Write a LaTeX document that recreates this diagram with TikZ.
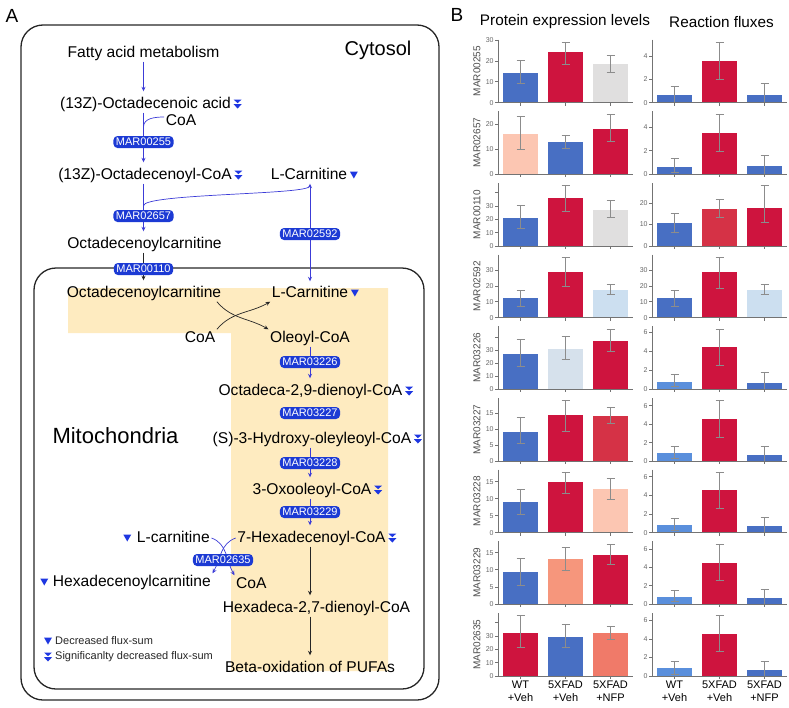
\documentclass[tikz,border=0pt]{standalone}
\usepackage{fontspec}
\setmainfont{Liberation Sans}
\usetikzlibrary{backgrounds,arrows.meta}

\definecolor{marblue}{RGB}{28,58,212}
\definecolor{iconblue}{RGB}{30,55,225}
\definecolor{flowblue}{RGB}{60,60,215}
\definecolor{mitoyellow}{RGB}{254,235,192}
\definecolor{cblue}{RGB}{72,111,195}
\definecolor{cred}{RGB}{206,20,62}
\definecolor{credmid}{RGB}{213,50,70}
\definecolor{cgray}{RGB}{224,223,223}
\definecolor{csalmonlight}{RGB}{252,198,178}
\definecolor{csalmon}{RGB}{246,150,124}
\definecolor{ccoral}{RGB}{240,122,105}
\definecolor{clightblue}{RGB}{204,223,240}
\definecolor{cpaleblue}{RGB}{214,225,236}
\definecolor{cskyblue}{RGB}{90,143,220}

% axis x, baseline y, pt per unit, tick step, last tick, extra tick, bars
\newcommand{\barchart}[7]{%
	\begin{scope}[shift={(#1,#2)}]
		\foreach \val/\low/\high/\col [count=\bi] in {#7}{
			\fill[\col] ({45*\bi-40},0) rectangle ++(35,{\val*#3});
			\draw[errbar] ({45*\bi-22.5},{\low*#3}) -- ({45*\bi-22.5},{\high*#3})
				({45*\bi-26.5},{\low*#3}) -- ++(8,0) ({45*\bi-26.5},{\high*#3}) -- ++(8,0);
			\draw[spine] ({45*\bi-22.5},0) -- ++(0,-3);
		}
		\foreach \tk in {0,#4,...,#5}
			\draw[spine] (0,{\tk*#3}) -- (-3,{\tk*#3}) node[ticklabel]{\tk};
		\draw[spine] (0,{#6*#3}) -- (-3,{#6*#3});
		\draw[spine] (0,63) -- (0,0) -- (135,0);
	\end{scope}%
}

\begin{document}
\begin{tikzpicture}[x=1pt, y=1pt, >={Stealth[length=4.5pt,width=4pt]},
	met/.style={font=\fontsize{15.6}{18}\selectfont, inner sep=1.5pt, text height=11pt, text depth=3pt},
	rxn/.style={fill=marblue, text=white, rounded corners=4pt, font=\fontsize{11}{12}\selectfont,
		inner xsep=2.5pt, inner ysep=0pt, minimum height=12pt},
	bflow/.style={->, flowblue, line width=0.7pt},
	bline/.style={flowblue, line width=0.7pt},
	kflow/.style={->, black!85, line width=0.7pt},
	tipgap/.style={shorten >=4pt},
	compartment/.style={draw=black!85, line width=1.3pt, rounded corners=22pt},
	compname/.style={font=\fontsize{20}{22}\selectfont},
	panel/.style={font=\fontsize{19}{21}\selectfont},
	legend/.style={font=\fontsize{11}{12}\selectfont, text=black!85, inner sep=1pt},
	title/.style={font=\fontsize{15.3}{17}\selectfont},
	rowlabel/.style={font=\fontsize{10}{11}\selectfont, text=black!70, rotate=90},
	grouplabel/.style={font=\fontsize{11}{13}\selectfont, align=center},
	ticklabel/.style={font=\fontsize{7}{8}\selectfont, text=black!60, anchor=east, inner sep=1pt},
	spine/.style={draw=black!55, line width=0.9pt},
	errbar/.style={draw=black!45, line width=0.7pt},
	dn/.pic={\fill[iconblue] (-4,3.5) -- (4,3.5) -- (0,-3.5) -- cycle;},
	ddn/.pic={\fill[iconblue] (-4,4.5) -- (4,4.5) -- (0,0.8) -- cycle
		(-4,-0.2) -- (4,-0.2) -- (0,-4.5) -- cycle;}
	]% {{{ A
	\useasboundingbox (0,0) rectangle (789,-707);
	\begin{scope}[on background layer]
		\fill[mitoyellow] (68,-288) -- (388,-288) -- (388,-671) -- (231,-671) -- (231,-333) -- (68,-333) -- cycle;
		\draw[compartment] (21,-25) rectangle (439,-700);
		\draw[compartment] (34,-268) rectangle (424,-689);
	\end{scope}

	\node[panel] (lblA) at (12,-16) {A};
	\node[compname] (cyto) at (378,-50) {Cytosol};
	\node[compname, font=\fontsize{22}{24}\selectfont] (mito) at (115.5,-436) {Mitochondria};

	\node[met] (fam) at (143.5,-53) {Fatty acid metabolism};
	\node[met] (oda) at (145.5,-104) {(13Z)-Octadecenoic acid};
	\node[met] (coa1) at (181,-121) {CoA};
	\node[met] (odcoa) at (145,-175) {(13Z)-Octadecenoyl-CoA};
	\node[met] (lcar1) at (309,-175) {L-Carnitine};
	\node[met] (octc1) at (144.5,-244) {Octadecenoylcarnitine};
	\node[met] (octc2) at (144,-293) {Octadecenoylcarnitine};
	\node[met] (lcar2) at (310,-293) {L-Carnitine};
	\node[met] (coa2) at (200,-338) {CoA};
	\node[met] (olcoa) at (310,-338) {Oleoyl-CoA};
	\node[met] (od29) at (310.5,-391) {Octadeca-2,9-dienoyl-CoA};
	\node[met] (hoco) at (312,-439) {(S)-3-Hydroxy-oleyleoyl-CoA};
	\node[met] (oxo) at (312,-490) {3-Oxooleoyl-CoA};
	\node[met] (hex7) at (311.5,-538) {7-Hexadecenoyl-CoA};
	\node[met, anchor=east] (lcar3) at (211.5,-538) {L-carnitine};
	\node[met, anchor=east] (hexc) at (212.5,-582) {Hexadecenoylcarnitine};
	\node[met, anchor=west] (coa3) at (234.5,-584) {CoA};
	\node[met] (hexdi) at (316.5,-608) {Hexadeca-2,7-dienoyl-CoA};
	\node[met] (beta) at (310,-668) {Beta-oxidation of PUFAs};

	\pic at ([xshift=5pt]oda.east) {ddn};
	\pic at ([xshift=5pt]odcoa.east) {ddn};
	\pic at ([xshift=5pt]lcar1.east) {dn};
	\pic at ([xshift=5pt]lcar2.east) {dn};
	\pic at ([xshift=5pt]od29.east) {ddn};
	\pic at ([xshift=5pt]hoco.east) {ddn};
	\pic at ([xshift=5pt]oxo.east) {ddn};
	\pic at ([xshift=5pt]hex7.east) {ddn};
	\pic at ([xshift=-8pt]lcar3.west) {dn};
	\pic at ([xshift=-7pt]hexc.west) {dn};

	% cytosol
	\draw[bflow, tipgap] (fam.south) -- (fam.south |- oda.north);
	\draw[bflow, tipgap] (oda.south -| fam.south) -- (fam.south |- odcoa.north);
	\draw[bline] ([yshift=4pt]coa1.west) to[out=180,in=90] ([yshift=-6pt]coa1.west -| fam.south);
	\draw[bflow, tipgap] (odcoa.south -| fam.south) -- (fam.south |- octc1.north);
	\draw[bline] ([yshift=-3pt]lcar1.south) .. controls +(-5,-8) and +(0,12) .. ([yshift=-22pt]lcar1.south -| fam.south);
	\draw[bflow, <->, shorten <=3pt] (lcar2.north) -- (lcar2.north |- lcar1.south);
	\draw[kflow, tipgap] (octc1.south -| fam.south) -- (fam.south |- octc2.north);

	% mitochondria
	\draw[kflow] ([xshift=-6pt]octc2.south east) to[out=-50,in=150] (olcoa.north west);
	\draw[kflow] (coa2.north east) to[out=50,in=210] (lcar2.south west);
	\draw[bflow, tipgap] (olcoa.south) -- (olcoa.south |- od29.north);
	\draw[bflow, tipgap] (hoco.south -| olcoa.south) -- (olcoa.south |- oxo.north);
	\draw[bflow, tipgap] (oxo.south -| olcoa.south) -- (olcoa.south |- hex7.north);
	\draw[bflow] (lcar3.east) to[out=-20,in=120] (coa3.north west);
	\draw[bflow] (hex7.west) to[out=200,in=60] (hexc.north east);
	\draw[kflow, tipgap] (hex7.south -| olcoa.south) -- (olcoa.south |- hexdi.north);
	\draw[kflow, tipgap] (hexdi.south -| olcoa.south) -- (olcoa.south |- beta.north);

	\node[rxn] (mar255) at (143.5,-142) {MAR00255};
	\node[rxn] (mar2657) at (143.5,-216) {MAR02657};
	\node[rxn] (mar110) at (143.5,-269) {MAR00110};
	\node[rxn] (mar2592) at (310,-234) {MAR02592};
	\node[rxn] (mar3226) at (310,-362) {MAR03226};
	\node[rxn] (mar3227) at (310,-413) {MAR03227};
	\node[rxn] (mar3228) at (310,-463) {MAR03228};
	\node[rxn] (mar3229) at (310,-512) {MAR03229};
	\node[rxn] (mar2635) at (223,-560) {MAR02635};

	\node[legend, anchor=west] (leg1) at (54,-641) {Decreased flux-sum};
	\node[legend, anchor=west] (leg2) at (54,-657) {Significanlty decreased flux-sum};
	\pic at ([xshift=-6pt]leg1.west) {dn};
	\pic at ([xshift=-6pt]leg2.west) {ddn};
	% }}}

	% {{{ B
	\node[panel] (lblB) at (457,-15) {B};
	\node[title] (protein) at (565,-22) {Protein expression levels};
	\node[title] (flux) at (721.5,-22) {Reaction fluxes};

	\foreach \name [count=\rw] in {MAR00255,MAR02657,MAR00110,MAR02592,MAR03226,MAR03227,MAR03228,MAR03229,MAR02635}
		\node[rowlabel] (row\rw) at (477,{-71.2-71.66*(\rw-1)}) {\name};

	\foreach \ax in {498,652}
		\foreach \grp [count=\gi] in {{WT\\+Veh},{5XFAD\\+Veh},{5XFAD\\+NFP}}
			\node[grouplabel] (grp\ax-\gi) at ({\ax+45*\gi-22.5},-691) {\grp};

	\barchart{498}{-102.7}{2.08}{10}{30}{0}{14.1/9.3/20.4/cblue, 24.5/18.6/29/cred, 18.6/14.6/22.8/cgray}
	\barchart{652}{-102.7}{11.67}{2}{4}{0}{0.66/0/1.37/cblue, 3.6/2/5.17/cred, 0.69/0/1.63/cblue}
	\barchart{498}{-174.3}{2.5}{10}{20}{0}{16.1/10/23.3/csalmonlight, 12.8/10.4/15.7/cblue, 18.1/13.3/24.1/cred}
	\barchart{652}{-174.3}{11.7}{2}{4}{0}{0.65/0.15/1.4/cblue, 3.55/1.95/5.1/cred, 0.7/0/1.65/cblue}
	\barchart{498}{-246}{1.33}{10}{30}{40}{21/13/30.8/cblue, 35.8/25.8/45.3/cred, 27/21.3/34.3/cgray}
	\barchart{652}{-246}{2.15}{10}{20}{0}{10.5/6.2/15.2/cblue, 17.4/13.2/21.7/credmid, 17.5/11/28.1/cred}
	\barchart{498}{-317.7}{1.58}{10}{30}{0}{12.3/7.4/17.1/cblue, 29.2/20.1/38.3/cred, 17.5/14.8/21.4/clightblue}
	\barchart{652}{-317.7}{1.58}{10}{30}{0}{12.2/7.4/17.5/cblue, 28.7/18.6/38.3/cred, 17.5/14.6/21.1/clightblue}
	\barchart{498}{-389.3}{1.3}{10}{30}{40}{27.4/17.9/38.5/cblue, 31.3/22.8/40.8/cpaleblue, 37.4/29/46.4/cred}
	\barchart{652}{-389.3}{9.5}{2}{6}{0}{0.8/0.28/1.58/cskyblue, 4.5/2.56/6.35/cred, 0.7/0/1.75/cblue}
	\barchart{498}{-461}{3.2}{5}{15}{0}{9.17/5.4/13.75/cblue, 14.3/9.4/18.9/cred, 14.2/11.7/16.8/credmid}
	\barchart{652}{-461}{9.2}{2}{6}{0}{0.83/0.29/1.55/cskyblue, 4.52/2.57/6.55/cred, 0.69/0/1.63/cblue}
	\barchart{498}{-532.7}{3.4}{5}{15}{0}{9/5.5/12.75/cblue, 14.9/11.6/17.7/cred, 12.75/9.8/15.9/csalmonlight}
	\barchart{652}{-532.7}{9.33}{2}{6}{0}{0.82/0.29/1.54/cskyblue, 4.54/2.6/6.46/cred, 0.68/0/1.64/cblue}
	\barchart{498}{-604.3}{3.44}{5}{15}{0}{9.3/5.6/13.35/cblue, 13.2/10/16.7/csalmon, 14.2/11.7/17.4/cred}
	\barchart{652}{-604.3}{9.2}{2}{6}{0}{0.83/0.29/1.52/cskyblue, 4.53/2.57/6.56/cred, 0.65/0/1.6/cblue}
	\barchart{498}{-676}{1.333}{10}{30}{40}{32.5/21.5/45.25/cred, 29.5/21.25/38.75/cblue, 32/27.75/37/ccoral}
	\barchart{652}{-676}{9.25}{2}{6}{0}{0.83/0.2/1.55/cskyblue, 4.58/2.63/6.53/cred, 0.65/0/1.63/cblue}
	% }}}
\end{tikzpicture}
\end{document}
